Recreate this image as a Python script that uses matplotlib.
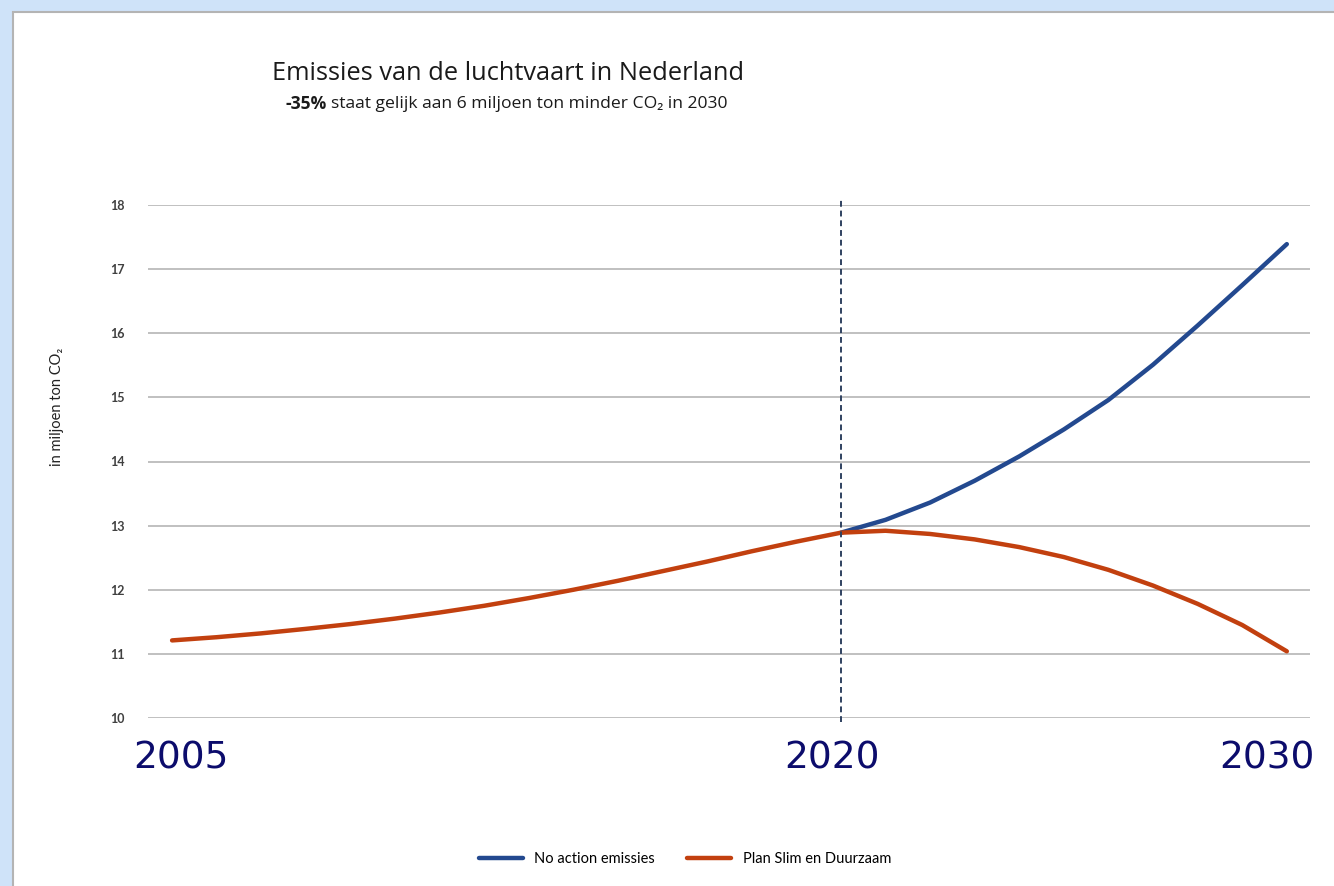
import matplotlib
matplotlib.use('Agg')
import matplotlib.pyplot as plt
import matplotlib.transforms as mtransforms
from matplotlib.patches import Rectangle

# data (miljoen ton CO2)
years_hist = [2005, 2006, 2007, 2008, 2009, 2010, 2011, 2012, 2013, 2014,
              2015, 2016, 2017, 2018, 2019, 2020]
years_fut = [2020, 2021, 2022, 2023, 2024, 2025, 2026, 2027, 2028, 2029, 2030]
plan_hist = [11.21, 11.26, 11.32, 11.39, 11.465, 11.55, 11.645, 11.75, 11.87, 12.00,
             12.14, 12.29, 12.44, 12.60, 12.75, 12.89]
plan_fut = [12.89, 12.92, 12.87, 12.785, 12.665, 12.51, 12.31, 12.065, 11.78, 11.45, 11.04]
no_action = [12.89, 13.09, 13.36, 13.70, 14.08, 14.50, 14.96, 15.51, 16.12, 16.75, 17.39]
yticks = [10, 11, 12, 13, 14, 15, 16, 17, 18]
xticks = [2005, 2020, 2030]

blue = '#23498f'
orange = '#c2400f'
txtfont = ['Lato', 'DejaVu Sans']
ttlfont = ['Open Sans', 'DejaVu Sans']

W, H = 1334, 886
fig = plt.figure(figsize=(W / 100, H / 100), dpi=100)
fig.patch.set_facecolor('#cfe3f9')
fig.patches.append(Rectangle((13 / W, -0.01), 1.0, 1 - 12 / H + 0.01,
                             transform=fig.transFigure, facecolor='white',
                             edgecolor='#b4b4b4', linewidth=1.5, zorder=-5))

ax = fig.add_axes([148 / W, 1 - 718 / H, (1310 - 148) / W, (718 - 205) / H])
ax.set_zorder(2)
ax.set_facecolor('none')
ax.set_xlim(2004.46, 2030.52)
ax.set_ylim(10, 18)
for s in ax.spines.values():
    s.set_visible(False)

ax.set_yticks(yticks)
ax.set_axisbelow(True)
ax.yaxis.grid(True, color='#c0c0c0', linewidth=1.4)
ax.tick_params(axis='y', length=0, pad=17, labelsize=9, labelcolor='#404040')
for lab in ax.get_yticklabels():
    lab.set_fontweight('bold')
    lab.set_family(txtfont)

ax.set_xticks(xticks)
ax.set_xticklabels([str(x) for x in xticks])
ax.tick_params(axis='x', length=0, pad=16, labelsize=27, labelcolor='#0c0c6c')
shifts = [9, -9, -20]
for lab, dx in zip(ax.get_xticklabels(), shifts):
    lab.set_family('DejaVu Sans')
    lab.set_transform(lab.get_transform() +
                      mtransforms.ScaledTranslation(dx / 100, 0, fig.dpi_scale_trans))

ax.plot(years_fut, no_action, color=blue, linewidth=3.2, solid_capstyle='round',
        solid_joinstyle='round', zorder=3, label='No action emissies')
ax.plot(years_hist + years_fut[1:], plan_hist + plan_fut[1:], color=orange,
        linewidth=3.2, solid_capstyle='round', solid_joinstyle='round', zorder=4,
        label='Plan Slim en Duurzaam')
ax.axvline(2020, ymin=-0.008, ymax=1.014, color='#2f4160', linewidth=1.4,
           linestyle=(0, (3, 2)), clip_on=False, zorder=5)

fig.text(57 / W, 1 - 407 / H, 'in miljoen ton CO\u2082', rotation=90, ha='center',
         va='center', fontsize=10.5, family=txtfont, color='#222222')

# titles
fig.text(508 / W, 1 - 73 / H, 'Emissies van de luchtvaart in Nederland',
         ha='center', va='center', fontsize=18.3, family=ttlfont, color='#1a1a1a')
t1 = fig.text(286 / W, 1 - 104 / H, '-35%', ha='left', va='center', fontsize=12.6,
              family=ttlfont, fontweight='bold', color='#1a1a1a')
fig.canvas.draw()
bb = t1.get_window_extent()
fig.text((bb.x1 + 4) / W, 1 - 104 / H, 'staat gelijk aan 6 miljoen ton minder CO\u2082 in 2030',
         ha='left', va='center', fontsize=12.6, family=ttlfont, color='#1a1a1a')

handles, labels = ax.get_legend_handles_labels()
leg = fig.legend(handles, labels, loc='center', bbox_to_anchor=(685 / W, 1 - 859 / H),
                 ncol=2, frameon=False, handlelength=3.0, handletextpad=0.8,
                 columnspacing=2.2, prop={'family': txtfont, 'size': 10.5})

fig.savefig('out.png', dpi=100, facecolor=fig.get_facecolor())
